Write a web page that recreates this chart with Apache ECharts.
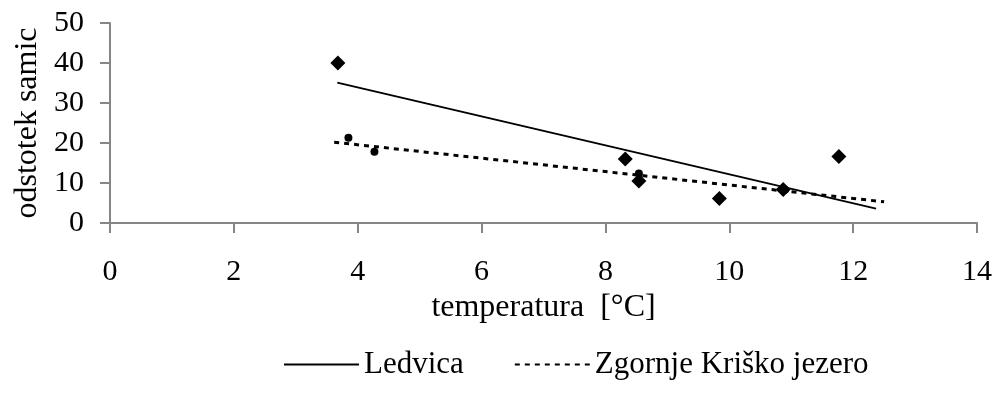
<!DOCTYPE html>
<html>
<head>
<meta charset="utf-8">
<script src="https://cdn.jsdelivr.net/npm/echarts@6/dist/echarts.min.js"></script>
<style>
  html, body { margin: 0; padding: 0; background: #fff; }
  #chart { width: 995px; height: 396px; }
</style>
</head>
<body>
<div id="chart"></div>
<script>
// Ledvica: temperature (°C) and share of females (%)
const ledvicaTemp = [3.68, 8.32, 8.54, 9.84, 10.87, 11.77];
const ledvicaPct  = [40, 16, 10.5, 6.1, 8.4, 16.6];

// Zgornje Kriško jezero
const kriskoTemp = [3.85, 4.27, 8.54, 10.9];
const kriskoPct  = [21.3, 17.8, 12.4, 8.3];

// Linear trend lines (start and end of each fitted line)
const ledvicaTrendTemp = [3.67, 12.37];
const ledvicaTrendPct  = [35.1, 3.6];
const kriskoTrendTemp  = [3.62, 12.5];
const kriskoTrendPct   = [20.2, 5.3];

const xTicks = [0, 2, 4, 6, 8, 10, 12, 14];
const yTicks = [0, 10, 20, 30, 40, 50];

const seriesNames = ['Ledvica', 'Zgornje Kriško jezero'];

const pairs = (xs, ys) => xs.map((x, i) => [x, ys[i]]);

const FONT = 'Liberation Serif';
const AXIS_GRAY = '#868686';

const chart = echarts.init(document.getElementById('chart'), null, { renderer: 'canvas' });

chart.setOption({
  animation: false,
  backgroundColor: '#fff',
  textStyle: { fontFamily: FONT, color: '#000' },
  grid: { left: 110, right: 17, top: 23, bottom: 173, containLabel: false },
  legend: {
    data: seriesNames,
    top: 349,
    left: 283,
    padding: 0,
    itemWidth: 75,
    itemHeight: 14,
    itemGap: 50,
    // line-only legend keys: hide the marker drawn on top of the line
    itemStyle: { opacity: 0 },
    textStyle: { fontFamily: FONT, fontSize: 31, color: '#000' }
  },
  xAxis: {
    type: 'value',
    min: xTicks[0],
    max: xTicks[xTicks.length - 1],
    interval: xTicks[1] - xTicks[0],
    name: 'temperatura  [°C]',
    nameLocation: 'middle',
    nameGap: 65,
    nameTextStyle: { fontFamily: FONT, fontSize: 32, color: '#000' },
    axisLine: { show: true, lineStyle: { color: AXIS_GRAY, width: 2 } },
    axisTick: { show: true, inside: false, length: 10, lineStyle: { color: AXIS_GRAY, width: 2 } },
    axisLabel: { fontFamily: FONT, fontSize: 30, color: '#000', margin: 34 },
    splitLine: { show: false }
  },
  yAxis: {
    type: 'value',
    min: yTicks[0],
    max: yTicks[yTicks.length - 1],
    interval: yTicks[1] - yTicks[0],
    name: 'odstotek samic',
    nameLocation: 'middle',
    nameGap: 64,
    nameTextStyle: { fontFamily: FONT, fontSize: 32, color: '#000' },
    axisLine: { show: true, lineStyle: { color: AXIS_GRAY, width: 2 } },
    axisTick: { show: true, inside: false, length: 10, lineStyle: { color: AXIS_GRAY, width: 2 } },
    axisLabel: { fontFamily: FONT, fontSize: 30, color: '#000', margin: 26 },
    splitLine: { show: false }
  },
  series: [
    {
      name: 'Zgornje Kriško jezero (meritve)',
      type: 'scatter',
      data: pairs(kriskoTemp, kriskoPct),
      symbol: 'circle',
      symbolSize: 8,
      itemStyle: { color: '#000', opacity: 1 },
      z: 2
    },
    {
      name: 'Ledvica (meritve)',
      type: 'scatter',
      data: pairs(ledvicaTemp, ledvicaPct),
      symbol: 'diamond',
      symbolSize: [15, 15],
      itemStyle: { color: '#000', opacity: 1 },
      z: 3
    },
    {
      name: seriesNames[0],
      type: 'line',
      data: pairs(ledvicaTrendTemp, ledvicaTrendPct),
      symbol: 'none',
      lineStyle: { color: '#000', width: 2, type: 'solid' },
      itemStyle: { color: '#000' },
      z: 4
    },
    {
      name: seriesNames[1],
      type: 'line',
      data: pairs(kriskoTrendTemp, kriskoTrendPct),
      symbol: 'none',
      lineStyle: { color: '#000', width: 3, type: [5, 5], cap: 'butt' },
      itemStyle: { color: '#000' },
      z: 4
    }
  ]
});
</script>
</body>
</html>
